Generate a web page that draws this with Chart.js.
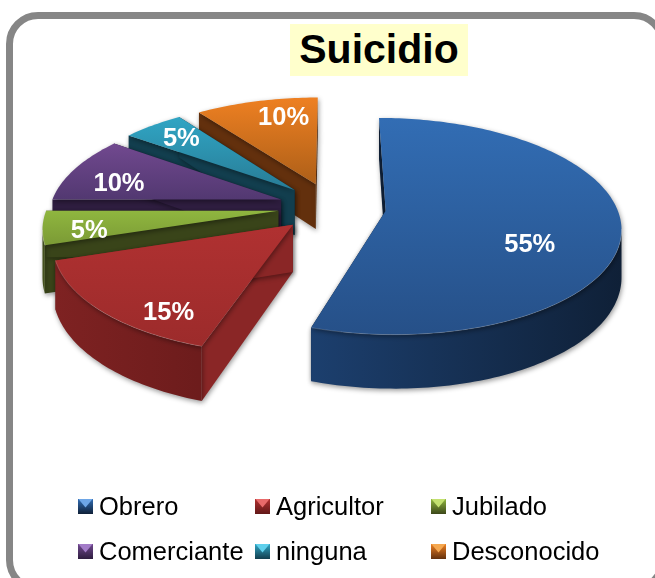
<!DOCTYPE html>
<html lang="es">
<head>
    <meta charset="UTF-8">
    <title>Suicidio</title>
    <script src="https://cdn.jsdelivr.net/npm/chart.js"></script>
    <style>
        html, body {
            margin: 0;
            width: 655px;
            height: 578px;
            overflow: hidden;
            background: white;
            font-family: 'Liberation Sans', Arial, sans-serif;
        }
        .frame {
            position: absolute;
            left: 6px;
            top: 12px;
            width: 660px;
            height: 580px;
            box-sizing: border-box;
            border: 7px solid #868686;
            border-radius: 32px;
        }
        canvas {
            position: absolute;
            left: 0;
            top: 0;
        }
        .title {
            position: absolute;
            left: 290px;
            top: 24px;
            width: 178px;
            height: 52px;
            line-height: 50px;
            text-align: center;
            background: #ffffcc;
            font-size: 41px;
            font-weight: bold;
            color: black;
        }
        .legend-item {
            position: absolute;
            display: flex;
            align-items: center;
            height: 30px;
            font-size: 25.5px;
            color: black;
            white-space: nowrap;
        }
        .swatch {
            position: relative;
            width: 15px;
            height: 15px;
            margin-right: 6px;
            overflow: hidden;
        }
        .swatch i {
            position: absolute;
            left: 0;
            top: 0;
            width: 15px;
            height: 9px;
            clip-path: polygon(0 0, 100% 0, 50% 100%);
        }
    </style>
</head>
<body>
    <div class="frame"></div>
    <canvas id="pie" width="655" height="578"></canvas>
    <div class="title">Suicidio</div>
    <div id="legend"></div>

    <script>
        const categories = ['Obrero', 'Agricultor', 'Jubilado', 'Comerciante', 'ninguna', 'Desconocido'];
        const percentages = [55, 15, 5, 10, 5, 10];

        // top face gradient, far to near
        const topColors = [
            ['#326db4', '#265088'],
            ['#b03131', '#9c2b2b'],
            ['#8fb63f', '#7b9a35'],
            ['#71498f', '#523871'],
            ['#30a5c4', '#287c96'],
            ['#ee8022', '#ad5f18']
        ];
        // outer rim gradient, left to right
        const rimColors = [
            ['#1c3f6e', '#0f2037'],
            ['#7e2222', '#621818'],
            ['#45521f', '#3c4719'],
            ['#2e1d3f', '#2e1d3f'],
            ['#123e4e', '#123e4e'],
            ['#63300d', '#63300d']
        ];
        const cutColors = ['#0f2037', '#8a2626', '#394419', '#2e1d3f', '#123e4e', '#63300d'];
        const swatchLight = ['#6ea6e6', '#e86a6a', '#c3e070', '#a37cc8', '#5fd0ec', '#f5a850'];

        // tweak from the default label spot, the original labels were placed by hand
        const labelNudge = [[-8, 23], [-5, 34], [-37, 9], [-26, 5], [-18, -8], [8, -10]];

        // legend layout
        const legendCols = [78, 255, 431];
        const legendRows = [491, 536];

        // perspective of the pie plane
        const widthScale = 0.983;
        const heightScale = 0.447;
        const perspective = 0.1417;
        const depthScale = 0.196;

        function project(el, u, v) {
            const w = 1 - perspective * v;
            return {
                x: el.x + el.outerRadius * widthScale * u / w,
                y: el.y + el.outerRadius * heightScale * v / w,
                d: el.outerRadius * depthScale / w
            };
        }

        // apex and rim of a slice on screen, walking clockwise
        function slicePoints(el) {
            const R = el.outerRadius;
            const mid = (el.startAngle + el.endAngle) / 2;
            const ox = el.options.offset / R * Math.cos(mid);
            const oy = el.options.offset / R * Math.sin(mid);
            const rim = [];
            const steps = Math.ceil((el.endAngle - el.startAngle) / 0.02);
            for (let i = 0; i <= steps; i++) {
                const a = el.startAngle + (el.endAngle - el.startAngle) * i / steps;
                rim.push(project(el, ox + Math.cos(a), oy + Math.sin(a)));
            }
            return { apex: project(el, ox, oy), rim: rim, ox: ox, oy: oy, mid: mid };
        }

        function wall(ctx, pts, color) {
            ctx.beginPath();
            pts.forEach((p, i) => i ? ctx.lineTo(p.x, p.y) : ctx.moveTo(p.x, p.y));
            for (let i = pts.length - 1; i >= 0; i--) {
                ctx.lineTo(pts[i].x, pts[i].y + pts[i].d);
            }
            ctx.closePath();
            ctx.fillStyle = color;
            ctx.fill();
        }

        function drawSlice(ctx, el, index) {
            const s = slicePoints(el);
            const xs = s.rim.map(p => p.x).concat(s.apex.x);
            const ys = s.rim.map(p => p.y).concat(s.apex.y);
            const left = Math.min(...xs), right = Math.max(...xs);
            const top = Math.min(...ys), bottom = Math.max(...ys);

            ctx.save();
            ctx.shadowColor = 'rgba(0, 0, 0, 0.4)';
            ctx.shadowBlur = 5;
            ctx.shadowOffsetX = 1;
            ctx.shadowOffsetY = 2;

            // cut faces
            wall(ctx, [s.rim[0], s.apex], cutColors[index]);
            wall(ctx, [s.apex, s.rim[s.rim.length - 1]], cutColors[index]);

            // rim, only the part turned to the viewer
            const front = s.rim.filter((p, i) =>
                (i > 0 && s.rim[i - 1].x > p.x) || (i < s.rim.length - 1 && s.rim[i + 1].x < p.x));
            if (front.length > 1) {
                const rimFill = ctx.createLinearGradient(left, 0, right, 0);
                rimFill.addColorStop(0, rimColors[index][0]);
                rimFill.addColorStop(1, rimColors[index][1]);
                wall(ctx, front, rimFill);
            }

            // top face
            const topFill = ctx.createLinearGradient(0, top, 0, bottom);
            topFill.addColorStop(0, topColors[index][0]);
            topFill.addColorStop(1, topColors[index][1]);
            ctx.beginPath();
            ctx.moveTo(s.apex.x, s.apex.y);
            s.rim.forEach(p => ctx.lineTo(p.x, p.y));
            ctx.closePath();
            ctx.fillStyle = topFill;
            ctx.fill();
            ctx.restore();

            // thin bevel on the front edge
            if (front.length > 1) {
                ctx.beginPath();
                front.forEach((p, i) => i ? ctx.lineTo(p.x, p.y) : ctx.moveTo(p.x, p.y));
                ctx.strokeStyle = 'rgba(255, 255, 255, 0.18)';
                ctx.lineWidth = 1;
                ctx.stroke();
            }
        }

        function drawLabel(ctx, el, index) {
            const s = slicePoints(el);
            const p = project(el, s.ox + 0.65 * Math.cos(s.mid), s.oy + 0.65 * Math.sin(s.mid));
            ctx.save();
            ctx.font = 'bold 25.5px "Liberation Sans", Arial, sans-serif';
            ctx.fillStyle = 'white';
            ctx.textAlign = 'center';
            ctx.textBaseline = 'middle';
            ctx.fillText(percentages[index] + '%', p.x + labelNudge[index][0], p.y + labelNudge[index][1]);
            ctx.restore();
        }

        // Chart.js has no 3D pie, so the arc elements it lays out are drawn tilted
        const tiltedPie = {
            id: 'tiltedPie',
            beforeDatasetDraw(chart, args) {
                const ctx = chart.ctx;
                const arcs = args.meta.data;
                for (let i = arcs.length - 1; i >= 0; i--) {
                    drawSlice(ctx, arcs[i], i);
                }
                arcs.forEach((el, i) => drawLabel(ctx, el, i));
                return false;
            }
        };

        const chart = new Chart(document.getElementById('pie').getContext('2d'), {
            type: 'pie',
            data: {
                labels: categories,
                datasets: [{
                    data: percentages,
                    backgroundColor: topColors.map(c => c[0]),
                    borderWidth: 0,
                    offset: 55
                }]
            },
            options: {
                responsive: false,
                animation: false,
                radius: 235,
                layout: { padding: { left: 9, bottom: 164 } },
                plugins: {
                    legend: { display: false },
                    tooltip: { enabled: false }
                }
            },
            plugins: [tiltedPie]
        });

        // html legend, the built in one can't line up in columns
        const legend = document.getElementById('legend');
        chart.data.labels.forEach((label, i) => {
            const item = document.createElement('div');
            item.className = 'legend-item';
            item.style.left = legendCols[i % 3] + 'px';
            item.style.top = legendRows[Math.floor(i / 3)] + 'px';
            const swatch = document.createElement('span');
            swatch.className = 'swatch';
            swatch.style.background = `linear-gradient(${topColors[i][0]}, ${rimColors[i][1]})`;
            const tip = document.createElement('i');
            tip.style.background = swatchLight[i];
            swatch.appendChild(tip);
            item.appendChild(swatch);
            item.appendChild(document.createTextNode(label));
            legend.appendChild(item);
        });
    </script>
</body>
</html>
